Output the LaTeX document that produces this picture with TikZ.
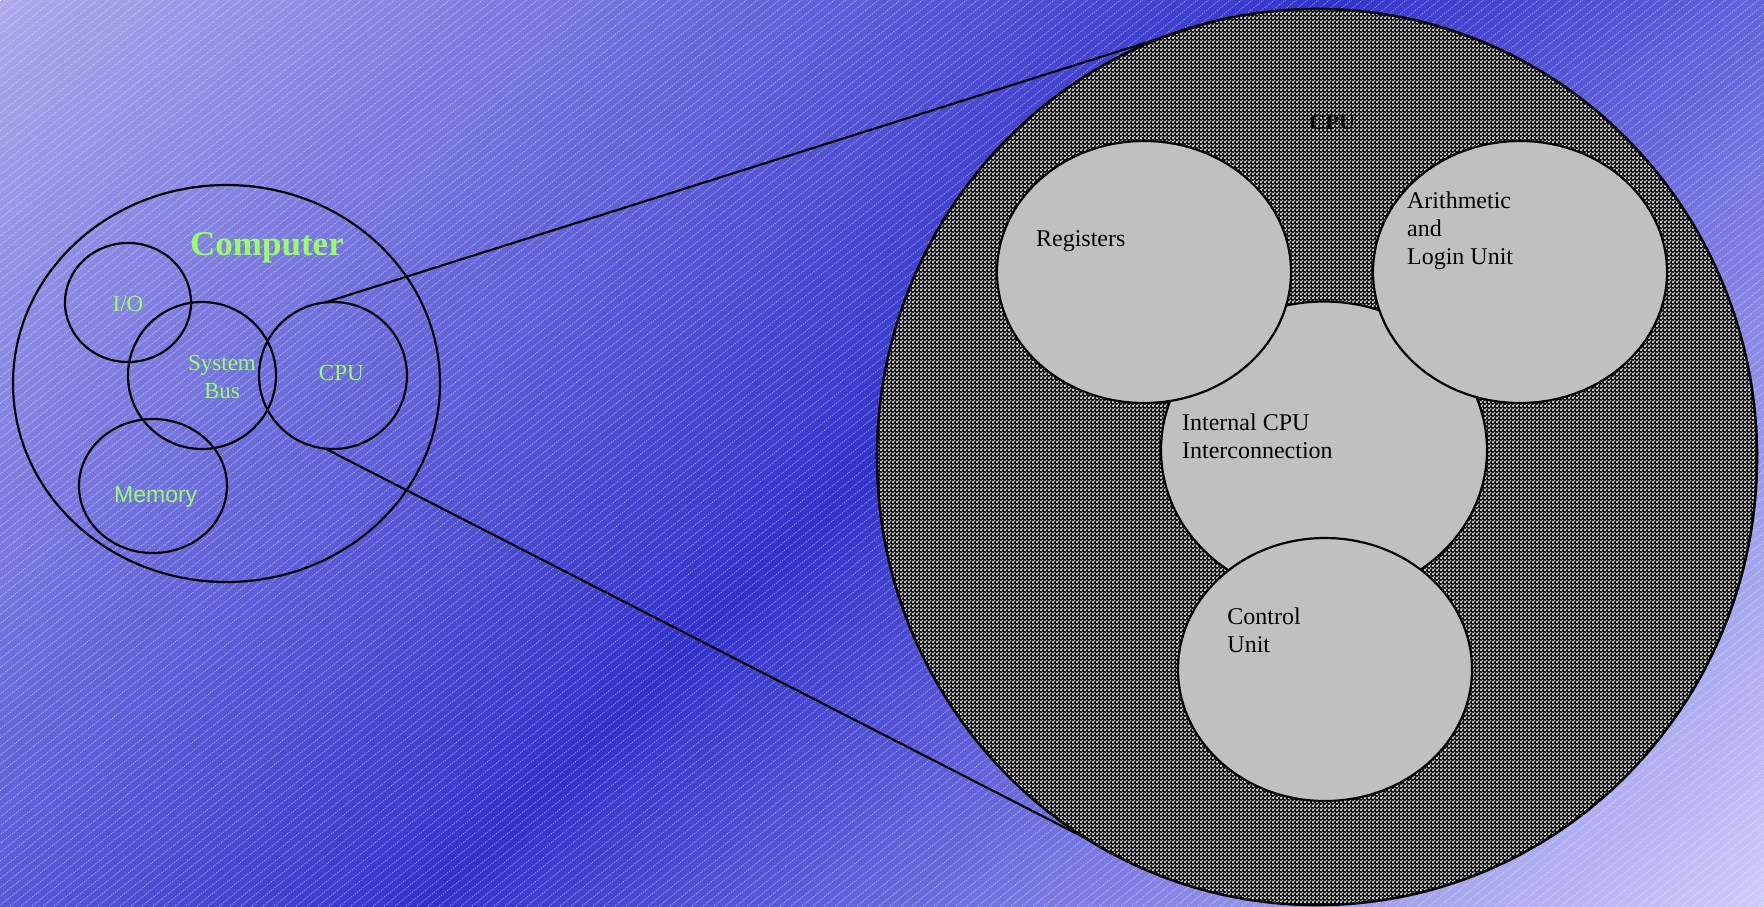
\documentclass[tikz,border=0pt]{standalone}
\usepackage{fontspec}
\setmainfont{Liberation Serif}
\newfontfamily\arialfont{Liberation Sans}
\usetikzlibrary{shapes.geometric,patterns}
\definecolor{bgtop}{RGB}{170,170,236}
\definecolor{bgmid}{RGB}{51,51,204}
\definecolor{bgbot}{RGB}{204,204,250}
\definecolor{lgreen}{RGB}{153,255,102}
\definecolor{cgray}{RGB}{192,192,192}
\pgfdeclarepatternformonly{chk}{\pgfpointorigin}{\pgfqpoint{2pt}{2pt}}{\pgfqpoint{2pt}{2pt}}{%
  \pgfpathrectangle{\pgfpointorigin}{\pgfqpoint{1.15pt}{1.15pt}}%
  \pgfpathrectangle{\pgfqpoint{1pt}{1pt}}{\pgfqpoint{1.15pt}{1.15pt}}%
  \pgfusepath{fill}}
\pgfdeclarehorizontalshading{bgsh}{945bp}{color(0bp)=(bgtop); color(470bp)=(bgmid); color(940bp)=(bgbot)}
\tikzset{
  ring/.style={ellipse, draw=black, line width=1.1pt, inner sep=0pt, outer sep=0pt},
  part/.style={ring, fill=cgray},
  gtext/.style={text=lgreen, inner sep=0pt, anchor=base, font=\fontsize{11.5}{14}\selectfont},
  ptext/.style={text=black, inner sep=0pt, anchor=base west, font=\fontsize{12}{14}\selectfont},
  conn/.style={draw=black, line width=1.1pt},
  hatch/.style={white, opacity=0.5, line width=0.35pt, dash pattern=on 0.6pt off 0.6pt},
}
\begin{document}
\begin{tikzpicture}[x=0.5pt,y=-0.5pt]
\useasboundingbox (0,0) rectangle (1764,906);
% diagonal gradient background (light corners top-left / bottom-right, dark across the middle)
\begin{scope}
  \clip (0,0) rectangle (1764,906);
  \node[inner sep=0pt, outer sep=0pt, rotate=-45] (bgshade) at (882,453) {\pgfuseshading{bgsh}};
  \foreach \i in {0,...,272} {
    \draw[hatch] ({\i*11-1200},906) -- ++(1200,-960);
  }
\end{scope}

% left: computer
\node[ring, minimum width=213.5pt, minimum height=198.5pt] (comp) at (226.5,383.5) {};
\node[ring, minimum width=63pt, minimum height=59.5pt] (io) at (128,302.5) {};
\node[ring, minimum width=74pt, minimum height=73.5pt] (bus) at (202,375.5) {};
\node[ring, minimum width=74pt, minimum height=73.5pt] (cpus) at (333,375.5) {};
\node[ring, minimum width=74pt, minimum height=67pt] (mem) at (153,486) {};

\node[gtext, font=\bfseries\fontsize{17.5}{20}\selectfont] (tcomp) at (267,255) {Computer};
\node[gtext] (tio) at (128,311.7) {I/O};
\node[gtext] (tbus) at (222,370) {\begin{tabular}[t]{@{}c@{}}System\\Bus\end{tabular}};
\node[gtext] (tcpus) at (341.3,380) {CPU};
\node[gtext, font=\arialfont\fontsize{11.5}{14}\selectfont] (tmem) at (155.7,502.7) {Memory};

% right: CPU detail
\node[ring, line width=1.3pt, preaction={fill=black}, pattern=chk, pattern color=cgray,
      minimum width=440pt, minimum height=448pt] (cpubig) at (1317,457) {};

\draw[conn] (cpus.96) -- (cpubig.104);
\draw[conn] (cpus.264) -- (cpubig.239.5);

\node[part, minimum width=163pt, minimum height=148.5pt] (icc) at (1324,450) {};
\node[part, minimum width=147pt, minimum height=131pt] (reg) at (1144,272) {};
\node[part, minimum width=147pt, minimum height=131pt] (alu) at (1520,272) {};
\node[part, minimum width=147pt, minimum height=131.5pt] (ctrl) at (1325,669.5) {};

\node[inner sep=0pt, anchor=base, font=\bfseries\fontsize{11}{13}\selectfont] (tcpubig) at (1332.3,129.3) {CPU};
\node[ptext] (treg) at (1035.7,246.7) {Registers};
\node[ptext] (talu) at (1406.7,208) {\begin{tabular}[t]{@{}l@{}}Arithmetic\\and\\Login Unit\end{tabular}};
\node[ptext] (ticc) at (1181.7,430) {\begin{tabular}[t]{@{}l@{}}Internal CPU\\Interconnection\end{tabular}};
\node[ptext] (tctrl) at (1227,624) {\begin{tabular}[t]{@{}l@{}}Control\\Unit\end{tabular}};
\end{tikzpicture}
\end{document}
